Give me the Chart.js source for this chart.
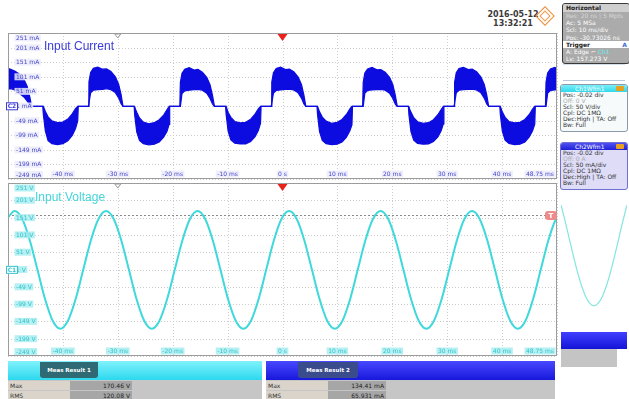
<!DOCTYPE html>
<html><head><meta charset="utf-8">
<script src="https://cdn.jsdelivr.net/npm/chart.js@4.4.1/dist/chart.umd.min.js"></script>
<style>
body{margin:0;width:629px;height:399px;position:relative;background:#fff;overflow:hidden;font-family:"DejaVu Sans",sans-serif;}
canvas{position:absolute;}
.abs{position:absolute;}
.date{position:absolute;left:480px;width:66px;text-align:center;font-size:8px;font-weight:bold;color:#3a3a3a;}
.hz{position:absolute;left:562px;top:3px;width:66px;height:59px;background:#ababab;border:1px solid #3a3a3a;border-radius:3px;overflow:hidden;font-size:6px;}
.hz div{height:7.2px;line-height:7.2px;padding-left:3px;color:#fff;white-space:nowrap;}
.ch{position:absolute;left:560px;width:66px;border:1px solid #8a9aa8;border-radius:3px;overflow:hidden;font-size:6px;}
.ch .h{height:7px;line-height:7px;color:#fff;padding-left:14px;position:relative;white-space:nowrap;}
.ch .h i{position:absolute;right:3px;top:1px;width:8px;height:5px;background:#e8a020;border-radius:1px;}
.ch div.l{height:6px;line-height:6px;padding-left:2px;color:#333;white-space:nowrap;}
.meas{position:absolute;top:361px;height:38px;font-size:6px;overflow:hidden;}
.meas .mh{position:absolute;left:0;top:0;right:0;height:19px;}
.meas .tab{position:absolute;top:1px;height:16px;line-height:16px;color:#fff;text-align:center;font-weight:bold;border-radius:0 0 3px 3px;font-size:5.5px;}
.meas .row{position:absolute;left:0;right:0;height:9px;background:#c6c6c6;}
.meas .lab{position:absolute;left:0;top:0;height:9px;line-height:9px;padding-left:2px;background:#dbd4cb;color:#333;}
.meas .val{position:absolute;top:0;height:9px;line-height:9px;text-align:right;background:#a6a6a6;color:#222;padding-right:2px;box-sizing:border-box;}
</style></head><body>

<div class="date" style="top:10px">2016-05-12</div>
<div class="date" style="top:19px">13:32:21</div>
<div class="abs" style="left:538px;top:9px;width:12px;height:12px;border:1.5px solid #f08a30;transform:rotate(45deg);"></div>
<div class="abs" style="left:541px;top:12px;width:6px;height:6px;border:1.2px solid #f39a50;transform:rotate(45deg);"></div>

<canvas id="cCur" width="560" height="150" style="left:0;top:30px"></canvas>
<canvas id="cVolt" width="560" height="177" style="left:0;top:181px"></canvas>
<canvas id="cThumb" width="66" height="112" style="left:561px;top:195px"></canvas>

<div class="hz">
  <div style="background:#cfcfcf;color:#222;font-weight:bold;height:8px;line-height:8px;">Horizontal</div>
  <div style="color:#d8d8d8">Res: 20 ns | 5 Mpts</div>
  <div>Ac: 5 MSa</div>
  <div>Scl: 10 ms/div</div>
  <div>Pos: -30.73026 ns</div>
  <div style="background:#fff;color:#222;font-weight:bold;">Trigger<span style="float:right;color:#3a6ad0;padding-right:2px">A</span></div>
  <div>A: Edge ⌐ <span style="color:#5ef0f0">Ch1</span></div>
  <div>Lv: 157.273 V</div>
</div>
<div class="abs" style="left:563px;top:64px;width:62px;height:15px;border-top:1px solid #d6e0ea;border-bottom:1px solid #b8c8dc;"></div>

<div class="ch" style="top:84px;height:46px;background:#f6fafb;">
  <div class="h" style="background:linear-gradient(#7aeef8,#30d8ea);">Ch1Wfm1<i></i></div>
  <div class="l">Pos: -0.02 div</div>
  <div class="l" style="color:#aaa">Off: 0 V</div>
  <div class="l">Scl: 50 V/div</div>
  <div class="l">Cpl: DC 1MΩ</div>
  <div class="l">Dec:High | TA: Off</div>
  <div class="l">Bw: Full</div>
</div>
<div class="ch" style="top:142px;height:46px;background:#dedcf6;border-color:#7070d0;">
  <div class="h" style="background:linear-gradient(#5050f0,#2020d8);">Ch2Wfm1<i></i></div>
  <div class="l">Pos: -0.02 div</div>
  <div class="l" style="color:#aaa">Off: 0 A</div>
  <div class="l">Scl: 50 mA/div</div>
  <div class="l">Cpl: DC 1MΩ</div>
  <div class="l">Dec:High | TA: Off</div>
  <div class="l">Bw: Full</div>
</div>

<div class="abs" style="left:561px;top:332px;width:66px;height:17px;background:linear-gradient(#4040ff,#1414d8);"></div>
<div class="abs" style="left:561px;top:349px;width:56px;height:18px;background:#c4c4c4;"></div>

<div class="meas" style="left:8px;width:254px;background:#c6c6c6;">
  <div class="mh" style="background:linear-gradient(#80f2fb,#2cd8ee);"></div>
  <div class="tab" style="left:32px;width:58px;background:#2f6a74;">Meas Result 1</div>
  <div class="row" style="top:20px"><span class="lab" style="width:60px">Max</span><span class="val" style="left:62px;width:62px">170.46 V</span></div>
  <div class="row" style="top:29.5px"><span class="lab" style="width:60px">RMS</span><span class="val" style="left:62px;width:62px">120.08 V</span></div>
</div>
<div class="meas" style="left:266px;width:289px;background:#c6c6c6;">
  <div class="mh" style="background:linear-gradient(#4848ff,#1818dc);"></div>
  <div class="tab" style="left:32px;width:60px;background:#3a4c8c;">Meas Result 2</div>
  <div class="row" style="top:20px"><span class="lab" style="width:60px">Max</span><span class="val" style="left:62px;width:58px">134.41 mA</span></div>
  <div class="row" style="top:29.5px"><span class="lab" style="width:60px">RMS</span><span class="val" style="left:62px;width:58px">65.931 mA</span></div>
</div>

<script>
// ---------- data ----------
const timeGrid = [-50,-40,-30,-20,-10,0,10,20,30,40,50];
const timeLabelPos = [-40,-30,-20,-10,0,10,20,30,40];
const timeLabels = ['-40 ms','-30 ms','-20 ms','-10 ms','0 s','10 ms','20 ms','30 ms','40 ms'];
const timeEndLabel = '48.75 ms';
const levelGrid = [251,201,151,101,51,1,-49,-99,-149,-199,-249];
const currentLabels = ['251 mA','201 mA','151 mA','101 mA','51 mA','1 mA','-49 mA','-99 mA','-149 mA','-199 mA','-249 mA'];
const voltageLabels = ['251 V','201 V','151 V','101 V','51 V','1 V','-49 V','-99 V','-149 V','-199 V','-249 V'];
const triggerLevel = 157.273;

// Input current (mA): band envelope, upper and lower edge
const curTime = [
-52.0,-51.9,-51.6,-51.1,-50.3,-49.4,-48.7,-47.9,-47.1,-46.5,-46.05,-45.7,-43.67,-43.57,-43.2,-42.7,-42.0,-41.0,-40.0,-39.1,-38.3,-37.7,-37.3,-37.2,
-35.35,-35.25,-34.95,-34.45,-33.65,-32.75,-32.05,-31.25,-30.45,-29.85,-29.4,-29.05,-27.02,-26.92,-26.55,-26.05,-25.35,-24.35,-23.35,-22.45,-21.65,-21.05,-20.65,-20.55,
-18.7,-18.6,-18.3,-17.8,-17.0,-16.1,-15.4,-14.6,-13.8,-13.2,-12.75,-12.4,-10.37,-10.27,-9.9,-9.4,-8.7,-7.7,-6.7,-5.8,-5.0,-4.4,-4.0,-3.9,
-2.05,-1.95,-1.65,-1.15,-0.35,0.55,1.25,2.05,2.85,3.45,3.9,4.25,6.28,6.38,6.75,7.25,7.95,8.95,9.95,10.85,11.65,12.25,12.65,12.75,
14.6,14.7,15.0,15.5,16.3,17.2,17.9,18.7,19.5,20.1,20.55,20.9,22.93,23.03,23.4,23.9,24.6,25.6,26.6,27.5,28.3,28.9,29.3,29.4,
31.25,31.35,31.65,32.15,32.95,33.85,34.55,35.35,36.15,36.75,37.2,37.55,39.58,39.68,40.05,40.55,41.25,42.25,43.25,44.15,44.95,45.55,45.95,46.05,
47.9,48.0,48.3,48.8,49.6,50.5,51.2];
const curUpper = [
0,80,112,126,132,126,120,110,92,68,34,0,0,0,-18,-36,-50,-56,-54,-44,-26,-8,0,0,
0,84,116,130,134,127,128,119,101,76,40,0,0,0,-20,-40,-54,-60,-56,-46,-30,-12,0,0,
0,82,113,127,132,124,126,117,99,74,37,0,0,0,-21,-38,-52,-57,-55,-44,-27,-9,0,0,
0,83,115,129,134,126,127,118,100,75,38,0,0,0,-19,-37,-51,-58,-55,-45,-28,-10,0,0,
0,81,114,128,133,125,126,117,99,74,37,0,0,0,-20,-39,-53,-58,-56,-46,-29,-11,0,0,
0,82,115,129,133,126,127,118,100,75,39,0,0,0,-20,-38,-52,-57,-55,-45,-28,-10,0,0,
0,82,114,128,133,125,127];
const curLower = [
0,0,44,54,58,60,55,44,32,18,6,0,0,-26,-84,-118,-128,-131,-128,-118,-100,-76,-50,0,
0,0,46,55,57,58,60,57,47,29,9,0,0,-30,-88,-117,-128,-132,-130,-122,-106,-86,-62,0,
0,0,44,53,55,57,58,55,45,27,8,0,0,-27,-86,-115,-126,-129,-129,-121,-104,-83,-58,0,
0,0,45,54,56,58,59,56,46,28,8,0,0,-28,-87,-117,-128,-131,-130,-122,-106,-85,-64,0,
0,0,45,54,56,57,58,55,45,27,7,0,0,-29,-87,-116,-127,-130,-129,-121,-105,-84,-60,0,
0,0,46,55,57,58,59,56,46,28,8,0,0,-28,-86,-116,-127,-131,-130,-122,-105,-84,-61,0,
0,0,45,54,56,58,59];

// Input voltage (V)
const voltTime = [
-50.19,-48.80,-47.41,-46.02,-44.63,-43.24,-41.86,-40.47,-39.08,-37.69,-36.30,-34.91,-33.52,
-32.13,-30.74,-29.36,-27.97,-26.58,-25.19,-23.80,-22.41,-21.02,-19.63,-18.24,-16.86,
-15.47,-14.08,-12.69,-11.30,-9.91,-8.52,-7.13,-5.74,-4.36,-2.97,-1.58,-0.19,
1.20,2.59,3.98,5.37,6.76,8.14,9.53,10.92,12.31,13.70,15.09,16.48,
17.87,19.26,20.64,22.03,23.42,24.81,26.20,27.59,28.98,30.37,31.76,33.14,
34.53,35.92,37.31,38.70,40.09,41.48,42.87,44.26,45.64,47.03,48.42,49.81,51.20];
const voltValue = [
147,170,147,85,0,-85,-147,-170,-147,-85,0,85,147,
170,147,85,0,-85,-147,-170,-147,-85,0,85,147,
170,147,85,0,-85,-147,-170,-147,-85,0,85,147,
170,147,85,0,-85,-147,-170,-147,-85,0,85,147,
170,147,85,0,-85,-147,-170,-147,-85,0,85,147,
170,147,85,0,-85,-147,-170,-147,-85,0,85,147,
170];

// thumbnail of the voltage trough (right panel)
const thumbIndex = [0,1,2,3,4,5,6,7,8,9,10,11,12,13,14,15,16];
const thumbValue = [85,44,0,-44,-85,-120,-147,-164,-170,-164,-147,-120,-85,-44,0,44,85];

// ---------- drawing helpers ----------
const BLUE = '#0c0ce0';
const CYAN = '#3fd8db';

function tag(ctx, text, cx, cy, align, fg, bg) {
  ctx.font = '6px "DejaVu Sans"';
  const w = ctx.measureText(text).width;
  const left = align === 'center' ? cx - w / 2 : (align === 'left' ? cx : cx - w);
  ctx.fillStyle = bg;
  ctx.fillRect(left - 1.5, cy - 3.5, w + 3, 7);
  ctx.fillStyle = fg;
  ctx.textAlign = 'left';
  ctx.textBaseline = 'middle';
  ctx.fillText(text, left, cy + 0.5);
}

function scopePlugin(o) {
  return {
    id: o.id,
    beforeDatasetsDraw(chart) {
      const {ctx, chartArea: a, scales: {x, y}} = chart;
      ctx.save();
      ctx.strokeStyle = '#cdcdcd';
      ctx.lineWidth = 1;
      ctx.setLineDash([1, 2]);
      ctx.beginPath();
      timeGrid.forEach(v => { const p = Math.round(x.getPixelForValue(v)) + 0.5; ctx.moveTo(p, a.top); ctx.lineTo(p, a.bottom); });
      levelGrid.forEach(v => { const p = Math.round(y.getPixelForValue(v)) + 0.5; ctx.moveTo(a.left, p); ctx.lineTo(a.right, p); });
      ctx.stroke();
      if (o.trigger != null) {
        ctx.strokeStyle = '#8a8a8a';
        ctx.setLineDash([2, 2]);
        const p = Math.round(y.getPixelForValue(o.trigger)) + 0.5;
        ctx.beginPath(); ctx.moveTo(a.left, p); ctx.lineTo(a.right, p); ctx.stroke();
      }
      ctx.restore();
    },
    afterDatasetsDraw(chart) {
      const {ctx, chartArea: a, scales: {x, y}} = chart;
      ctx.save();
      // border
      ctx.strokeStyle = '#9c9c9c'; ctx.lineWidth = 1; ctx.setLineDash([]);
      ctx.strokeRect(a.left + 0.5, a.top + 0.5, a.width - 1, a.height - 1);
      // title
      ctx.font = '12px "Liberation Sans"';
      ctx.fillStyle = o.titleColor; ctx.textAlign = 'left'; ctx.textBaseline = 'middle';
      ctx.fillText(o.title, a.left + o.titleDx, a.top + o.titleDy);
      // level labels
      levelGrid.forEach((v, i) => {
        let cy = y.getPixelForValue(v);
        if (i === 0) cy = a.top + 5;
        if (i === levelGrid.length - 1) cy = a.bottom - 4.5;
        tag(ctx, o.labels[i], a.left + 8, cy, 'left', o.fg, o.bg);
      });
      // time labels
      timeLabelPos.forEach((v, i) => tag(ctx, timeLabels[i], x.getPixelForValue(v), a.bottom - 5, 'center', o.fg, o.bg));
      tag(ctx, timeEndLabel, a.right - 3, a.bottom - 5, 'right', o.fg, o.bg);
      // channel marker at zero
      const zy = y.getPixelForValue(0);
      ctx.fillStyle = '#ffffff'; ctx.fillRect(a.left - 2, zy - 4, 12, 8);
      ctx.strokeStyle = o.chColor; ctx.lineWidth = 1;
      ctx.strokeRect(a.left - 1.5, zy - 3.5, 11, 7);
      ctx.fillStyle = o.chColor; ctx.font = 'bold 6px "DejaVu Sans"'; ctx.textAlign = 'center';
      ctx.fillText(o.ch, a.left + 4, zy + 0.5);
      // red trigger position marker
      const tx = x.getPixelForValue(0);
      ctx.fillStyle = '#e8231c';
      ctx.beginPath(); ctx.moveTo(tx - 5, a.top + 1); ctx.lineTo(tx + 5, a.top + 1); ctx.lineTo(tx, a.top + 8); ctx.closePath(); ctx.fill();
      // gray reference marker
      const gx = x.getPixelForValue(-30);
      ctx.strokeStyle = '#9a9a9a';
      ctx.beginPath(); ctx.moveTo(gx - 3, a.top + 1); ctx.lineTo(gx + 3, a.top + 1); ctx.lineTo(gx, a.top + 5); ctx.closePath(); ctx.stroke();
      // trigger level tag
      if (o.trigger != null) {
        const ty = y.getPixelForValue(o.trigger);
        ctx.fillStyle = '#ef8a8a';
        ctx.beginPath(); ctx.roundRect(a.right - 12, ty - 4.5, 12, 9, 3); ctx.fill();
        ctx.fillStyle = '#fff'; ctx.font = 'bold 7px "DejaVu Sans"'; ctx.textAlign = 'center';
        ctx.fillText('T', a.right - 6, ty + 0.5);
      }
      ctx.restore();
    }
  };
}

const common = {
  responsive: false, animation: false, events: [],
  plugins: {legend: {display: false}, tooltip: {enabled: false}},
};

new Chart(document.getElementById('cCur'), {
  type: 'line',
  data: {datasets: [
    {data: curTime.map((t, i) => ({x: t, y: curUpper[i]})), borderColor: BLUE, borderWidth: 1.2, pointRadius: 0, fill: false, clip: 0},
    {data: curTime.map((t, i) => ({x: t, y: curLower[i]})), borderColor: BLUE, borderWidth: 1.2, pointRadius: 0, fill: '-1', backgroundColor: BLUE, clip: 0}
  ]},
  options: Object.assign({}, common, {
    layout: {padding: {left: 8, right: 3, top: 3, bottom: 1}},
    scales: {
      x: {type: 'linear', min: -50, max: 50, display: false},
      y: {type: 'linear', min: -249, max: 251, display: false}
    }
  }),
  plugins: [scopePlugin({id: 'scopeCur', title: 'Input Current', titleColor: '#3c3cdc', titleDx: 36, titleDy: 14,
    labels: currentLabels, fg: '#4646cc', bg: 'rgba(236,236,252,0.85)', ch: 'C2', chColor: '#3a3ad8', trigger: null})]
});

new Chart(document.getElementById('cVolt'), {
  type: 'line',
  data: {datasets: [
    {data: voltTime.map((t, i) => ({x: t, y: voltValue[i]})), borderColor: CYAN, borderWidth: 2, pointRadius: 0, fill: false, cubicInterpolationMode: 'monotone', clip: 0}
  ]},
  options: Object.assign({}, common, {
    layout: {padding: {left: 8, right: 3, top: 2, bottom: 2}},
    scales: {
      x: {type: 'linear', min: -50, max: 50, display: false},
      y: {type: 'linear', min: -249, max: 251, display: false}
    }
  }),
  plugins: [scopePlugin({id: 'scopeVolt', title: 'Input Voltage', titleColor: '#44d6da', titleDx: 27, titleDy: 15,
    labels: voltageLabels, fg: '#34c4cc', bg: 'rgba(165,236,240,0.8)', ch: 'C1', chColor: '#34c4cc', trigger: triggerLevel})]
});

new Chart(document.getElementById('cThumb'), {
  type: 'line',
  data: {datasets: [
    {data: thumbIndex.map((t, i) => ({x: t, y: thumbValue[i]})), borderColor: 'rgba(90,222,212,0.75)', borderWidth: 1.2, pointRadius: 0, fill: false, cubicInterpolationMode: 'monotone'}
  ]},
  options: Object.assign({}, common, {
    layout: {padding: 0},
    scales: {
      x: {type: 'linear', min: 0, max: 16, display: false},
      y: {type: 'linear', min: -173, max: 110, display: false}
    }
  })
});
</script>
</body></html>
